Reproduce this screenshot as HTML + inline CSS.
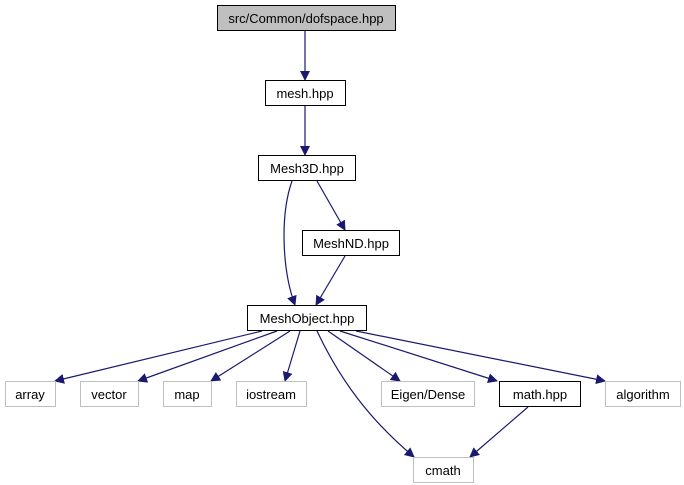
<!DOCTYPE html>
<html><head><meta charset="utf-8"><style>body{margin:0;background:#fff}svg{display:block}text{font-family:"Liberation Sans",sans-serif;font-size:13px;text-anchor:middle}</style></head><body>
<svg width="684" height="485" viewBox="0 0 684 485">
<defs><marker id="a" markerWidth="10" markerHeight="10" refX="9" refY="5" orient="auto" markerUnits="userSpaceOnUse"><path d="M0,0L10,5L0,10z" fill="#191970"/></marker></defs>
<g fill="none" stroke="#191970" stroke-width="1.2" marker-end="url(#a)">
<path d="M305,31V80"/>
<path d="M305,106V155"/>
<path d="M317,181L345,230"/>
<path d="M292,181C280,215 282,270 295,305"/>
<path d="M345,256L316,305"/>
<path d="M262,331L55,381"/>
<path d="M277,331L138,381"/>
<path d="M290,331L211,381"/>
<path d="M300,331L285,381"/>
<path d="M317,331C340,380 370,420 414,457"/>
<path d="M328,331L400,381"/>
<path d="M340,331L497,381"/>
<path d="M356,331L605,381"/>
<path d="M528,407L470,457"/>
</g>
<g stroke-width="1">
<rect x="217.5" y="5.5" width="178" height="25" fill="#bfbfbf" stroke="#000"/>
<rect x="265.5" y="80.5" width="80" height="25" fill="#fff" stroke="#000"/>
<rect x="258.5" y="155.5" width="97" height="25" fill="#fff" stroke="#000"/>
<rect x="302.5" y="230.5" width="97" height="25" fill="#fff" stroke="#000"/>
<rect x="247.5" y="305.5" width="119" height="25" fill="#fff" stroke="#000"/>
<rect x="5.5" y="381.5" width="50" height="25" fill="#fff" stroke="#bfbfbf"/>
<rect x="80.5" y="381.5" width="58" height="25" fill="#fff" stroke="#bfbfbf"/>
<rect x="163.5" y="381.5" width="48" height="25" fill="#fff" stroke="#bfbfbf"/>
<rect x="236.5" y="381.5" width="70" height="25" fill="#fff" stroke="#bfbfbf"/>
<rect x="381.5" y="381.5" width="93" height="25" fill="#fff" stroke="#bfbfbf"/>
<rect x="499.5" y="381.5" width="81" height="25" fill="#fff" stroke="#000"/>
<rect x="605.5" y="381.5" width="75" height="25" fill="#fff" stroke="#bfbfbf"/>
<rect x="413.5" y="457.5" width="60" height="25" fill="#fff" stroke="#bfbfbf"/>
</g>
<text x="306" y="23">src/Common/dofspace.hpp</text>
<text x="305" y="98">mesh.hpp</text>
<text x="307" y="173">Mesh3D.hpp</text>
<text x="351" y="248">MeshND.hpp</text>
<text x="307" y="323">MeshObject.hpp</text>
<text x="30" y="399">array</text>
<text x="109" y="399">vector</text>
<text x="187" y="399">map</text>
<text x="271" y="399">iostream</text>
<text x="428" y="399">Eigen/Dense</text>
<text x="540" y="399">math.hpp</text>
<text x="643" y="399">algorithm</text>
<text x="443" y="475">cmath</text>
</svg>
</body></html>
